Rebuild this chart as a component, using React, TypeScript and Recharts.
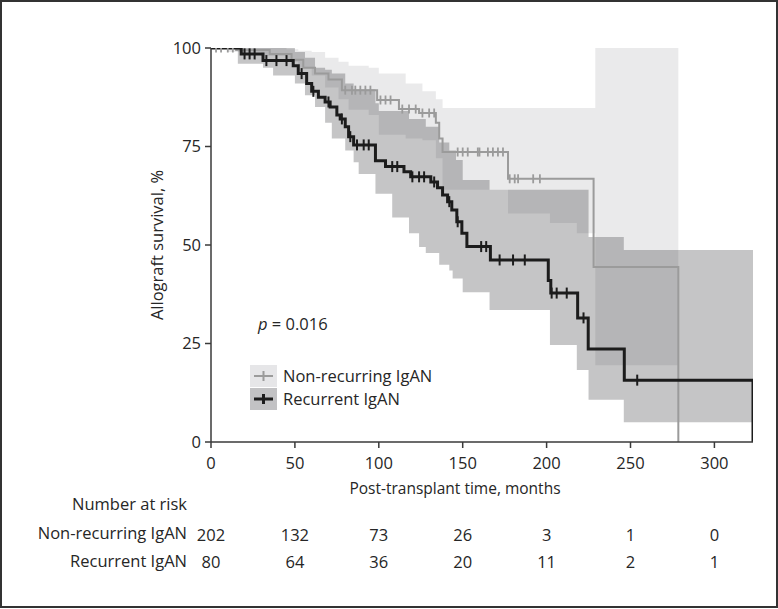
import React from "react";
import {
  ComposedChart,
  Area,
  Line,
  Scatter,
  XAxis,
  YAxis,
  Label,
  Legend,
} from "recharts";

// axis ticks
const xTicks = [0, 50, 100, 150, 200, 250, 300];
const yTicks = [0, 25, 50, 75, 100];

// numbers at risk, one per x tick
const riskNonRecurring = [202, 132, 73, 26, 3, 1, 0];
const riskRecurrent = [80, 64, 36, 20, 11, 2, 1];

// Kaplan-Meier estimates (t = months, s = % surviving)
const nonRecurringCurve = [
  { t: 0, s: 100 }, { t: 15, s: 99.5 }, { t: 35, s: 98.5 }, { t: 48, s: 97 },
  { t: 55, s: 95 }, { t: 62, s: 93.5 }, { t: 70, s: 92 }, { t: 78, s: 89.3 },
  { t: 99, s: 86.8 }, { t: 112, s: 84.5 }, { t: 124, s: 83.5 }, { t: 134, s: 81 },
  { t: 136, s: 77 }, { t: 138, s: 73.6 }, { t: 177, s: 66.8 }, { t: 228, s: 44.4 },
  { t: 278.5, s: 0 },
];

const recurrentCurve = [
  { t: 0, s: 100 }, { t: 18, s: 98.5 }, { t: 31, s: 96.8 }, { t: 49, s: 95.5 },
  { t: 52, s: 93.5 }, { t: 57, s: 91 }, { t: 60, s: 89 }, { t: 64, s: 87.5 },
  { t: 68, s: 86.3 }, { t: 71, s: 85 }, { t: 75, s: 83 }, { t: 77, s: 82 },
  { t: 80, s: 80 }, { t: 82, s: 77.5 }, { t: 85, s: 75.4 }, { t: 98, s: 71.4 },
  { t: 104, s: 69.9 }, { t: 115, s: 68.6 }, { t: 119, s: 67.3 }, { t: 131, s: 66 },
  { t: 135, s: 64.5 }, { t: 138, s: 62.7 }, { t: 141, s: 61 }, { t: 143.5, s: 58.9 },
  { t: 146.5, s: 55.9 }, { t: 149.5, s: 53 }, { t: 152.5, s: 49.6 }, { t: 166.5, s: 46.2 },
  { t: 201, s: 41 }, { t: 202.5, s: 37.8 }, { t: 218.5, s: 31.5 }, { t: 224.8, s: 23.6 },
  { t: 246.3, s: 15.7 }, { t: 323, s: 0 },
];

// 95% confidence bands
const nonRecurringBand = [
  { t: 0, lo: 100, hi: 100 }, { t: 10, lo: 99, hi: 100 }, { t: 30, lo: 98, hi: 100 },
  { t: 45, lo: 96.5, hi: 99.7 }, { t: 52, lo: 95, hi: 99.3 }, { t: 60, lo: 93, hi: 99 },
  { t: 68, lo: 90, hi: 97.5 }, { t: 76, lo: 87, hi: 96.5 }, { t: 82, lo: 84.3, hi: 95.5 },
  { t: 94, lo: 83, hi: 95 }, { t: 100, lo: 78, hi: 93.5 }, { t: 116, lo: 77, hi: 91 },
  { t: 126, lo: 76.6, hi: 89 }, { t: 134, lo: 72, hi: 87 }, { t: 138, lo: 64, hi: 84.8 },
  { t: 177, lo: 58, hi: 84.8 }, { t: 202, lo: 55.6, hi: 84.8 }, { t: 218, lo: 53, hi: 84.8 },
  { t: 229, lo: 19.5, hi: 100 }, { t: 278.5, lo: 19.5, hi: 100 },
];

const recurrentBand = [
  { t: 0, lo: 100, hi: 100 }, { t: 16, lo: 96, hi: 100 }, { t: 31, lo: 95, hi: 100 },
  { t: 37, lo: 93, hi: 100 }, { t: 50, lo: 91, hi: 99 }, { t: 56, lo: 88, hi: 97.5 },
  { t: 62, lo: 85, hi: 95 }, { t: 68, lo: 81, hi: 94.5 }, { t: 72, lo: 77, hi: 93.5 },
  { t: 80, lo: 74, hi: 91 }, { t: 85, lo: 71, hi: 89.5 }, { t: 88, lo: 68, hi: 89.5 },
  { t: 98, lo: 63, hi: 86 }, { t: 100, lo: 63, hi: 84 }, { t: 108, lo: 57, hi: 84 },
  { t: 118, lo: 53, hi: 82 }, { t: 124, lo: 49.5, hi: 82 }, { t: 128, lo: 48, hi: 80 },
  { t: 136, lo: 45, hi: 76 }, { t: 142, lo: 43.5, hi: 74 }, { t: 144, lo: 41.5, hi: 74 },
  { t: 146, lo: 41.5, hi: 71.6 }, { t: 150, lo: 38, hi: 66.5 }, { t: 166, lo: 33.5, hi: 64 },
  { t: 202, lo: 24.6, hi: 64 }, { t: 218, lo: 18.3, hi: 64 }, { t: 225, lo: 10.7, hi: 52 },
  { t: 246, lo: 5, hi: 48.7 }, { t: 323, lo: 5, hi: 48.7 },
];

// censored observations
const nonRecurringCensored = [
  { t: 3, s: 100 }, { t: 6, s: 100 }, { t: 10, s: 100 }, { t: 13, s: 100 },
  { t: 80, s: 89.3 }, { t: 84, s: 89.3 }, { t: 86, s: 89.3 }, { t: 89, s: 89.3 },
  { t: 92, s: 89.3 }, { t: 95, s: 89.3 }, { t: 101, s: 86.8 }, { t: 104, s: 86.8 },
  { t: 107, s: 86.8 }, { t: 114, s: 84.5 }, { t: 118, s: 84.5 }, { t: 122, s: 84.5 },
  { t: 126, s: 83.5 }, { t: 130, s: 83.5 }, { t: 133, s: 83.5 },
  { t: 147, s: 73.6 }, { t: 150, s: 73.6 }, { t: 153, s: 73.6 }, { t: 159, s: 73.6 },
  { t: 160, s: 73.6 }, { t: 165, s: 73.6 }, { t: 168, s: 73.6 }, { t: 171, s: 73.6 },
  { t: 174, s: 73.6 }, { t: 178, s: 66.8 }, { t: 181, s: 66.8 }, { t: 183, s: 66.8 },
  { t: 192, s: 66.8 }, { t: 196, s: 66.8 },
];

const recurrentCensored = [
  { t: 20, s: 98.5 }, { t: 23, s: 98.5 }, { t: 26, s: 98.5 }, { t: 33, s: 96.8 },
  { t: 39, s: 96.8 }, { t: 45, s: 96.8 }, { t: 54, s: 93.5 }, { t: 61, s: 89 },
  { t: 70, s: 86.3 }, { t: 78, s: 82 }, { t: 83, s: 77.5 }, { t: 87, s: 75.4 },
  { t: 91, s: 75.4 }, { t: 94, s: 75.4 }, { t: 108, s: 69.9 }, { t: 111, s: 69.9 },
  { t: 120, s: 67.3 }, { t: 124, s: 67.3 }, { t: 127, s: 67.3 }, { t: 133, s: 66 },
  { t: 142, s: 61 }, { t: 147, s: 55.9 }, { t: 161, s: 49.6 }, { t: 164, s: 49.6 },
  { t: 172, s: 46.2 }, { t: 180, s: 46.2 }, { t: 187, s: 46.2 }, { t: 203, s: 37.8 },
  { t: 206, s: 37.8 }, { t: 212, s: 37.8 }, { t: 222, s: 31.5 }, { t: 254, s: 15.7 },
];

const legendItems = [
  { name: "Non-recurring IgAN", box: "#e6e6e8", line: "#9b9b9b", width: 2 },
  { name: "Recurrent IgAN", box: "#c2c2c4", line: "#1c1c1c", width: 3 },
];

const FONT = "'Open Sans', 'Noto Sans', sans-serif";
const TEXT = "#262626";
const AXIS = "#3a3a3a";
const FS = 16.5;

const tickMark = (color: string, half: number, w: number) => (props: any) => {
  const { cx, cy } = props;
  if (cx == null || cy == null) return <g />;
  return <line x1={cx} x2={cx} y1={cy - half} y2={cy + half} stroke={color} strokeWidth={w} />;
};

function KmLegend() {
  return (
    <div style={{ fontFamily: FONT, fontSize: FS, color: TEXT }}>
      {legendItems.map((it) => (
        <div key={it.name} style={{ display: "flex", alignItems: "center", height: 23 }}>
          <svg width={27} height={22} style={{ background: it.box, display: "block" }}>
            <line x1={4} x2={23} y1={11} y2={11} stroke={it.line} strokeWidth={it.width} />
            <line x1={13.5} x2={13.5} y1={6} y2={16} stroke={it.line} strokeWidth={it.width} />
          </svg>
          <span style={{ marginLeft: 6, whiteSpace: "nowrap" }}>{it.name}</span>
        </div>
      ))}
    </div>
  );
}

const xTitle = (props: any) => {
  const vb = props.viewBox || {};
  return (
    <text x={vb.x + 244} y={vb.y + 52} textAnchor="middle" fill={TEXT} fontSize={15.5}>
      Post-transplant time, months
    </text>
  );
};

const riskAxis = (id: string, counts: number[], name: string, h: number) => (
  <XAxis
    xAxisId={id}
    dataKey="t"
    type="number"
    domain={[0, 323]}
    allowDataOverflow
    ticks={xTicks}
    interval={0}
    height={h}
    axisLine={false}
    tickLine={false}
    tickSize={0}
    tickMargin={9}
    tick={{ fill: TEXT, fontSize: FS }}
    tickFormatter={(v: number) => String(counts[xTicks.indexOf(v)])}
  >
    <Label value={name} position="left" offset={24} fill={TEXT} fontSize={FS} />
  </XAxis>
);

export default function App() {
  return (
    <div style={{ position: "relative", width: 778, height: 609, fontFamily: FONT, background: "#fff" }}>
      <style>{`body { margin: 0; }`}</style>
      <ComposedChart
        width={778}
        height={609}
        margin={{ top: 48, right: 25, bottom: 34, left: 103 }}
      >
        <XAxis
          dataKey="t"
          type="number"
          domain={[0, 323]}
          ticks={xTicks}
          interval={0}
          allowDataOverflow
          height={78}
          tickSize={6}
          tickMargin={9}
          stroke={AXIS}
          strokeWidth={1.5}
          tick={{ fill: TEXT, fontSize: FS }}
        >
          <Label content={xTitle} />
        </XAxis>
        {riskAxis("riskNon", riskNonRecurring, "Non-recurring IgAN", 27)}
        {riskAxis("riskRec", riskRecurrent, "Recurrent IgAN", 28)}
        <YAxis
          type="number"
          domain={[0, 100]}
          ticks={yTicks}
          interval={0}
          allowDataOverflow
          width={108}
          tickSize={6}
          tickMargin={4}
          stroke={AXIS}
          strokeWidth={1.5}
          tick={{ fill: TEXT, fontSize: FS }}
        >
          <Label value="Allograft survival, %" angle={-90} position="center" fill={TEXT} fontSize={FS} />
        </YAxis>

        <Area
          data={nonRecurringBand}
          dataKey={(d: any) => [d.lo, d.hi]}
          type="stepAfter"
          stroke="none"
          fill="#1a1a24"
          fillOpacity={0.09}
          isAnimationActive={false}
          legendType="none"
        />
        <Area
          data={recurrentBand}
          dataKey={(d: any) => [d.lo, d.hi]}
          type="stepAfter"
          stroke="none"
          fill="#16161c"
          fillOpacity={0.25}
          isAnimationActive={false}
          legendType="none"
        />
        <Line
          data={nonRecurringCurve}
          dataKey="s"
          type="stepAfter"
          stroke="#9b9b9b"
          strokeWidth={2}
          dot={false}
          isAnimationActive={false}
        />
        <Line
          data={recurrentCurve}
          dataKey="s"
          type="stepAfter"
          stroke="#1c1c1c"
          strokeWidth={3}
          dot={false}
          isAnimationActive={false}
        />
        <Scatter
          data={nonRecurringCensored}
          dataKey="s"
          shape={tickMark("#9b9b9b", 4.5, 1.8)}
          isAnimationActive={false}
        />
        <Scatter
          data={recurrentCensored}
          dataKey="s"
          shape={tickMark("#1c1c1c", 5.5, 2)}
          isAnimationActive={false}
        />
        <Legend
          verticalAlign="middle"
          align="center"
          layout="horizontal"
          wrapperStyle={{ position: "absolute", left: 250, top: 364, width: 220, height: 46 }}
          content={() => <KmLegend />}
        />
      </ComposedChart>

      <div style={{ position: "absolute", left: 258, top: 312, fontSize: FS, color: TEXT, whiteSpace: "nowrap" }}>
        <i>p</i> = 0.016
      </div>
      <div style={{ position: "absolute", right: 778 - 187, top: 492, fontSize: FS, color: TEXT, whiteSpace: "nowrap" }}>
        Number at risk
      </div>
      <div
        style={{
          position: "absolute",
          left: 0,
          top: 0,
          width: 778,
          height: 608,
          boxSizing: "border-box",
          border: "2px solid #333",
          pointerEvents: "none",
        }}
      />
    </div>
  );
}
